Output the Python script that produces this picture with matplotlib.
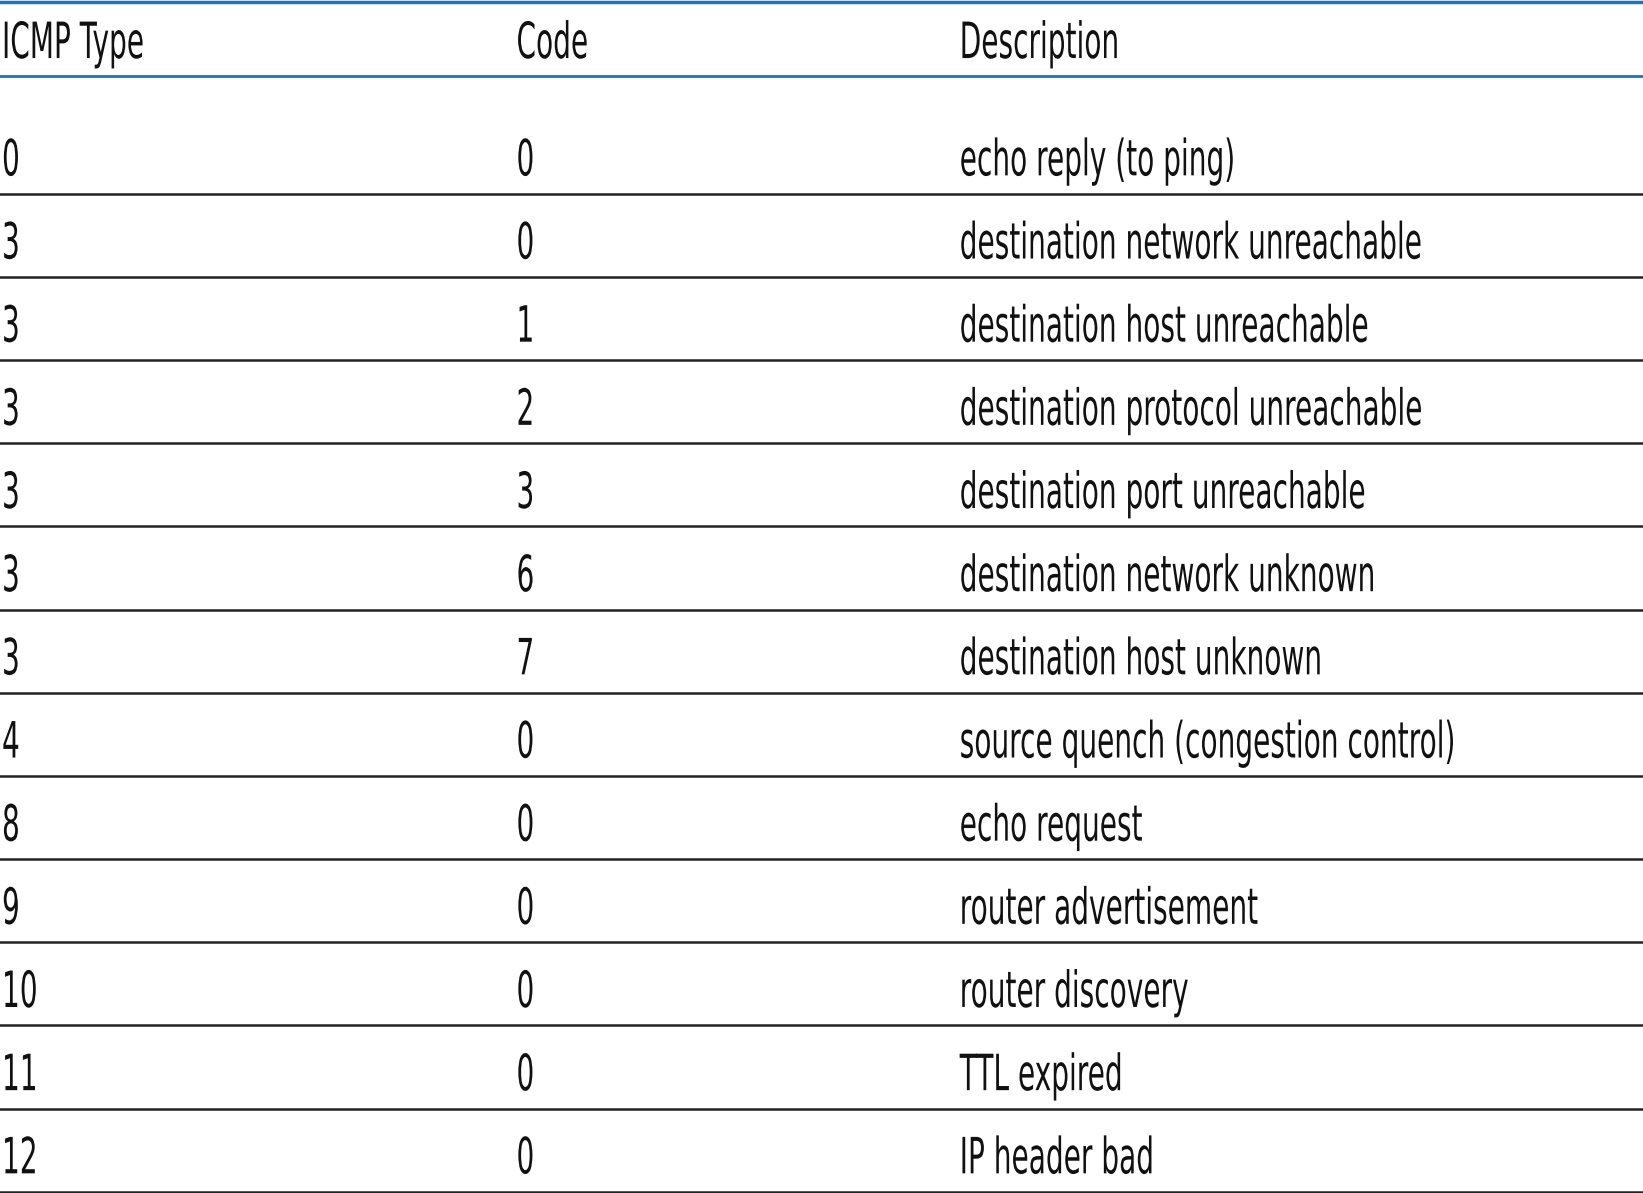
import matplotlib.pyplot as plt
from matplotlib.lines import Line2D
from matplotlib.patches import PathPatch
from matplotlib.textpath import TextPath
from matplotlib.font_manager import FontProperties
from matplotlib.transforms import Affine2D

headers = ["ICMP Type", "Code", "Description"]
icmp_types = ["0", "3", "3", "3", "3", "3", "3", "4", "8", "9", "10", "11", "12"]
codes = ["0", "0", "1", "2", "3", "6", "7", "0", "0", "0", "0", "0", "0"]
descriptions = [
    "echo reply (to ping)",
    "destination network unreachable",
    "destination host unreachable",
    "destination protocol unreachable",
    "destination port unreachable",
    "destination network unknown",
    "destination host unknown",
    "source quench (congestion control)",
    "echo request",
    "router advertisement",
    "router discovery",
    "TTL expired",
    "IP header bad",
]

FW, FH = 1643, 1193
H = 1139.0
W = 1568.0
fig = plt.figure(figsize=(FW / 100, FH / 100), dpi=100)

col_x = [0 / W, 491 / W, 914 / W]
blue = "#2a6db3"
size_px = 50
cap = 0.73 * size_px
sx = 0.56
prop = FontProperties(family="DejaVu Sans")


def y(px):
    return 1 - px / H


def hline(py, color, lw):
    fig.add_artist(Line2D([0, 1], [y(py), y(py)], color=color, lw=lw,
                          transform=fig.transFigure))


def narrow_text(xf, yc, s):
    # condensed text: glyph path squeezed horizontally, centred on yc
    tp = TextPath((0, 0), s, size=size_px, prop=prop)
    tr = (Affine2D().scale(sx / FW, 1 / FH)
          .translate(xf + 2 / FW, yc - cap / 2 / FH) + fig.transFigure)
    fig.add_artist(PathPatch(tp, transform=tr, facecolor="#111111",
                             edgecolor="none"))


hline(2, blue, 2.5)
hline(73, blue, 2.0)
for x, h in zip(col_x, headers):
    narrow_text(x, y(38), h)

row_h = 79.4
for i, (t, c, d) in enumerate(zip(icmp_types, codes, descriptions)):
    cy = 150 + i * row_h
    for x, s in zip(col_x, (t, c, d)):
        narrow_text(x, y(cy), s)
    hline(185 + i * row_h, "#222222", 1.8)

fig.savefig("out.png", dpi=100)
